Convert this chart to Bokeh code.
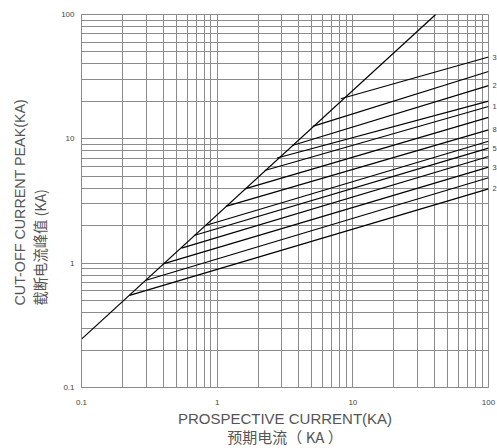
from bokeh.plotting import figure
from bokeh.models import FixedTicker, LogAxis, Title
from bokeh.embed import file_html
from bokeh.resources import INLINE

# ---- data ----
# diagonal (non-limited peak) line
diag_x = [0.1, 40.8]
diag_y = [0.245, 100.0]

# start point (on the diagonal) of each cut-off line
start_x = [0.226, 0.295, 0.40, 0.546, 0.674, 0.819, 1.16, 1.60, 2.24, 2.76, 3.57, 5.06, 8.14]
start_y = [0.550, 0.725, 0.988, 1.32, 1.67, 2.01, 2.86, 3.96, 5.56, 7.01, 8.84, 12.6, 21.0]
# end of each line at prospective current 100 kA
end_x = [100.0] * 13
end_y = [3.96, 4.86, 5.92, 7.21, 8.41, 9.57, 11.8, 14.9, 18.2, 20.1, 26.8, 34.8, 45.5]
# visible (edge-cut) label text at the right end of the lines
edge_labels = ["2", "", "3", "", "5", "", "8", "", "1", "", "2", "", "3"]

x_ticks = [0.1, 1, 10, 100]
y_ticks = [0.1, 1, 10, 100]
tick_labels = {0.1: "0.1", 1: "1", 10: "10", 100: "100"}
grid_ticks = [m * 10.0 ** e for e in (-1, 0, 1) for m in range(1, 10)] + [100.0]

GRID = "#8c8c8c"
TXT = "#555555"

p = figure(
    x_axis_type="log", y_axis_type="log",
    x_range=(0.1, 100), y_range=(0.1, 100),
    frame_width=407, frame_height=373,
    min_border_left=81, min_border_right=9, min_border_top=14, min_border_bottom=61,
    output_backend="svg", toolbar_location=None,
    background_fill_color="white", border_fill_color="white",
)
p.outline_line_color = GRID

def style_axis(ax):
    ax.major_tick_line_color = None
    ax.major_tick_out = 0
    ax.major_tick_in = 0
    ax.minor_tick_line_color = None
    ax.minor_tick_out = 0
    ax.minor_tick_in = 0
    ax.major_label_text_font = "Liberation Sans"
    ax.major_label_text_font_size = "8px"
    ax.major_label_text_color = "#444444"

for ax, ticks in ((p.xaxis, x_ticks), (p.yaxis, y_ticks)):
    ax.ticker = FixedTicker(ticks=ticks)
    ax.major_label_overrides = tick_labels
    ax.axis_line_color = GRID
    style_axis(ax)
p.xaxis.major_label_standoff = 12
p.yaxis.major_label_standoff = 7

# right-edge labels of the lines, through a right-hand axis
lab_y = [ey for ey, t in zip(end_y, edge_labels) if t]
lab_t = [t for t in edge_labels if t]
right_ax = LogAxis(ticker=FixedTicker(ticks=lab_y),
                   major_label_overrides={y: t for y, t in zip(lab_y, lab_t)})
style_axis(right_ax)
right_ax.axis_line_color = None
right_ax.major_label_text_font_size = "7.5px"
right_ax.major_label_standoff = 4
p.add_layout(right_ax, "right")

p.xgrid.ticker = FixedTicker(ticks=grid_ticks)
p.ygrid.ticker = FixedTicker(ticks=grid_ticks)
for g in (p.xgrid, p.ygrid):
    g.grid_line_color = GRID
    g.grid_line_width = 1

# lines
p.line(diag_x, diag_y, line_color="black", line_width=1.2)
p.multi_line(
    xs=[[sx, ex] for sx, ex in zip(start_x, end_x)],
    ys=[[sy, ey] for sy, ey in zip(start_y, end_y)],
    line_color="black", line_width=1.2,
)

# axis titles as side-panel titles
def title(text, side, size, standoff, align="center", offset=0, font="Liberation Sans"):
    t = Title(text=text, align=align, offset=offset, standoff=standoff,
              text_font=font, text_font_size=size, text_font_style="normal",
              text_color=TXT)
    p.add_layout(t, side)

title("PROSPECTIVE CURRENT(KA)", "below", "15px", 0)
title("预期电流（ KA ）", "below", "15px", -5, font="Noto Sans CJK SC")
title("截断电流峰值 (KA)", "left", "14.3px", 18, align="left", offset=82, font="Noto Sans CJK SC")
title("CUT-OFF CURRENT PEAK(KA)", "left", "14.3px", -20, align="left", offset=82)

open("out.html", "w").write(file_html(p, INLINE))
